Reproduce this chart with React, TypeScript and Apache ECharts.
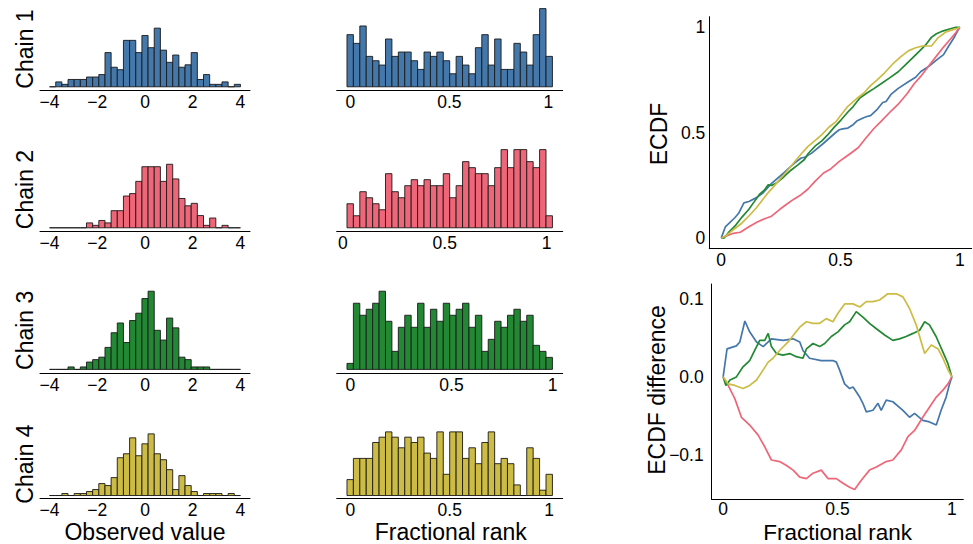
import React, { useEffect, useRef } from "react";
import * as echarts from "echarts";

// ---------- data ----------
const chainNames = ["Chain 1", "Chain 2", "Chain 3", "Chain 4"];
const chainColors = ["#4477AA", "#EE6677", "#228833", "#CCBB44"];

// observed-value histograms (31 shared bins over the range below)
const histRange = [-4, 4];
const histChain1 = [0, 2, 1, 3, 3, 3, 4, 4, 5, 14, 8, 7, 19, 19, 14, 21, 16, 24, 15, 10, 13, 8, 9, 14, 3, 5, 1, 1, 2, 0, 1];
const histChain2 = [0, 0, 0, 0, 0, 0, 2, 1, 3, 2, 7, 7, 13, 14, 19, 25, 25, 25, 19, 26, 20, 12, 9, 10, 5, 1, 4, 0, 1, 0, 0];
const histChain3 = [0, 0, 0, 1, 0, 1, 3, 4, 5, 9, 15, 19, 11, 20, 23, 29, 32, 16, 12, 21, 17, 5, 4, 1, 1, 1, 0, 0, 0, 0, 0];
const histChain4 = [0, 0, 1, 0, 1, 1, 2, 3, 6, 5, 9, 19, 21, 29, 20, 26, 31, 21, 18, 13, 3, 10, 5, 2, 0, 1, 1, 1, 0, 1, 0];

// fractional-rank histograms (32 bins each, bin range per chain)
const rankRangeChain1 = [-0.0165, 1.02];
const rankRangeChain2 = [0.0196, 1.029];
const rankRangeChain3 = [-0.0162, 0.999];
const rankRangeChain4 = [-0.0165, 1.0165];
const rankChain1 = [12, 10, 14, 7, 6, 5, 11, 7, 8, 8, 6, 4, 8, 7, 8, 6, 3, 7, 5, 3, 9, 12, 5, 11, 4, 4, 10, 8, 5, 12, 18, 7];
const rankChain2 = [4, 2, 6, 5, 4, 3, 9, 6, 5, 7, 8, 7, 8, 7, 7, 9, 5, 7, 11, 10, 9, 9, 7, 10, 13, 10, 13, 13, 11, 10, 13, 2];
const rankChain3 = [1, 11, 9, 10, 11, 13, 8, 3, 7, 9, 7, 11, 7, 10, 8, 11, 9, 10, 11, 7, 9, 3, 5, 8, 7, 9, 10, 8, 9, 4, 3, 2];
const rankChain4 = [3, 7, 7, 7, 10, 11, 12, 11, 9, 11, 10, 11, 8, 7, 12, 4, 12, 12, 7, 9, 6, 10, 12, 6, 7, 6, 2, 0, 9, 7, 1, 4];

// ECDF difference [fractional rank, ECDF - rank]
const ecdfDiffChain1 = [[0, 0], [0.017, 0.036], [0.058, 0.04], [0.073, 0.045], [0.095, 0.072], [0.116, 0.058], [0.146, 0.045], [0.175, 0.039], [0.211, 0.049], [0.262, 0.047], [0.306, 0.049], [0.335, 0.045], [0.349, 0.034], [0.378, 0.024], [0.429, 0.021], [0.48, 0.021], [0.495, 0.019], [0.509, 0.009], [0.531, -0.009], [0.553, -0.015], [0.568, -0.013], [0.597, -0.026], [0.611, -0.034], [0.626, -0.045], [0.655, -0.043], [0.677, -0.034], [0.691, -0.043], [0.713, -0.03], [0.742, -0.032], [0.786, -0.043], [0.815, -0.052], [0.837, -0.047], [0.873, -0.056], [0.902, -0.058], [0.932, -0.062], [0.953, -0.043], [0.975, -0.026], [0.99, -0.009], [1, 0]];
const ecdfDiffChain2 = [[0, 0], [0.022, -0.011], [0.051, -0.028], [0.08, -0.052], [0.116, -0.062], [0.153, -0.075], [0.182, -0.09], [0.211, -0.107], [0.247, -0.109], [0.277, -0.114], [0.306, -0.12], [0.335, -0.129], [0.364, -0.131], [0.393, -0.124], [0.429, -0.12], [0.459, -0.131], [0.495, -0.131], [0.524, -0.137], [0.553, -0.142], [0.575, -0.145], [0.604, -0.133], [0.64, -0.12], [0.67, -0.116], [0.713, -0.109], [0.742, -0.107], [0.779, -0.094], [0.808, -0.077], [0.837, -0.069], [0.873, -0.052], [0.902, -0.039], [0.932, -0.026], [0.961, -0.017], [0.983, -0.009], [1, 0]];
const ecdfDiffChain3 = [[0, 0], [0.012, -0.011], [0.03, -0.004], [0.058, 0], [0.087, 0.013], [0.116, 0.021], [0.138, 0.034], [0.16, 0.047], [0.182, 0.047], [0.197, 0.056], [0.211, 0.039], [0.233, 0.03], [0.262, 0.028], [0.291, 0.03], [0.32, 0.026], [0.349, 0.024], [0.364, 0.036], [0.393, 0.043], [0.422, 0.039], [0.444, 0.043], [0.473, 0.052], [0.502, 0.058], [0.531, 0.067], [0.553, 0.071], [0.582, 0.084], [0.611, 0.077], [0.64, 0.069], [0.67, 0.062], [0.706, 0.054], [0.742, 0.047], [0.771, 0.049], [0.8, 0.052], [0.83, 0.056], [0.859, 0.06], [0.881, 0.071], [0.902, 0.067], [0.931, 0.052], [0.961, 0.032], [0.983, 0.017], [1, 0]];
const ecdfDiffChain4 = [[0, 0], [0.022, -0.009], [0.051, -0.011], [0.087, -0.015], [0.116, -0.011], [0.146, -0.004], [0.175, 0.009], [0.197, 0.019], [0.218, 0.024], [0.247, 0.034], [0.284, 0.045], [0.313, 0.056], [0.335, 0.064], [0.364, 0.071], [0.393, 0.069], [0.422, 0.069], [0.451, 0.075], [0.48, 0.071], [0.502, 0.082], [0.531, 0.094], [0.568, 0.094], [0.597, 0.09], [0.626, 0.097], [0.655, 0.097], [0.684, 0.099], [0.72, 0.107], [0.757, 0.107], [0.786, 0.103], [0.815, 0.088], [0.844, 0.067], [0.881, 0.03], [0.91, 0.041], [0.94, 0.036], [0.961, 0.024], [0.983, 0.009], [1, 0]];

const observedTicks = [-4, -2, 0, 2, 4];
const rankTicks = [0, 0.5, 1];
const ecdfTicks = [0, 0.5, 1];
const diffTicks = [-0.1, 0, 0.1];

// ---------- layout ----------
const FONT = "'Liberation Sans', Arial, Helvetica, sans-serif";
const TICK_SIZE = 17.5;
const TITLE_SIZE = 23;
const rowTop = [4.7, 145.7, 287.3, 428.7];
const rowBottom = [90.7, 231.7, 373.3, 498.7];
const leftX = 40, leftW = 210;
const rankX = 336.7, rankW = 226;

const minus = (s: string) => s.replace("-", "\u2212");

function expand(lo: number, hi: number, f = 0.05) {
  const r = hi - lo;
  return [lo - r * f, hi + r * f];
}

function histSeries(counts: number[], range: number[], color: string, idx: number) {
  const n = counts.length;
  const w = (range[1] - range[0]) / n;
  const data = counts.map((c, k) => [range[0] + k * w, range[0] + (k + 1) * w, c]);
  return {
    type: "custom",
    xAxisIndex: idx,
    yAxisIndex: idx,
    silent: true,
    clip: false,
    data,
    encode: { x: [0, 1], y: 2 },
    renderItem: (params: any, api: any) => {
      const p0 = api.coord([api.value(0), api.value(2)]);
      const p1 = api.coord([api.value(1), 0]);
      return {
        type: "rect",
        shape: { x: p0[0], y: p0[1], width: p1[0] - p0[0], height: p1[1] - p0[1] },
        style: { fill: color, stroke: "#1a1a1a", lineWidth: 0.9 },
      };
    },
  };
}

function xAxisCfg(gridIndex: number, min: number, max: number, ticks: number[], fmt: (v: number) => string, margin = 3) {
  return {
    type: "value",
    gridIndex,
    min,
    max,
    axisLine: { show: true, onZero: false, lineStyle: { color: "#000", width: 1 } },
    axisTick: { show: false },
    splitLine: { show: false },
    axisLabel: {
      customValues: ticks,
      formatter: fmt,
      color: "#000",
      fontSize: TICK_SIZE,
      lineHeight: 17,
      fontFamily: FONT,
      margin,
      showMinLabel: true,
      showMaxLabel: true,
    },
  };
}

function buildOption() {
  const hists = [histChain1, histChain2, histChain3, histChain4];
  const ranks = [rankChain1, rankChain2, rankChain3, rankChain4];
  const rankRanges = [rankRangeChain1, rankRangeChain2, rankRangeChain3, rankRangeChain4];
  const diffs = [ecdfDiffChain1, ecdfDiffChain2, ecdfDiffChain3, ecdfDiffChain4];

  const grids: any[] = [];
  const xAxes: any[] = [];
  const yAxes: any[] = [];
  const series: any[] = [];

  const histMax = Math.max(...hists.flat());
  const histX = expand(histRange[0], histRange[1]);

  // left column
  for (let i = 0; i < 4; i++) {
    grids.push({ left: leftX, top: rowTop[i], width: leftW, height: rowBottom[i] - rowTop[i] });
    xAxes.push(xAxisCfg(i, histX[0], histX[1], observedTicks, (v: number) => minus(String(v))));
    const yr = expand(0, histMax);
    yAxes.push({ type: "value", gridIndex: i, min: yr[0], max: yr[1], show: false });
    series.push(histSeries(hists[i], histRange, chainColors[i], i));
  }
  // middle column
  for (let i = 0; i < 4; i++) {
    const gi = 4 + i;
    grids.push({ left: rankX, top: rowTop[i], width: rankW, height: rowBottom[i] - rowTop[i] });
    const xr = expand(rankRanges[i][0], rankRanges[i][1]);
    xAxes.push(xAxisCfg(gi, xr[0], xr[1], rankTicks, (v: number) => String(v)));
    const yr = expand(0, Math.max(...ranks[i]));
    yAxes.push({ type: "value", gridIndex: gi, min: yr[0], max: yr[1], show: false });
    series.push(histSeries(ranks[i], rankRanges[i], chainColors[i], gi));
  }

  const yAxisBase = (gi: number, min: number, max: number, ticks: number[], fmt: (v: number) => string, margin: number) => ({
    type: "value",
    gridIndex: gi,
    min,
    max,
    axisLine: { show: true, onZero: false, lineStyle: { color: "#000", width: 1 } },
    axisTick: { show: false },
    splitLine: { show: false },
    axisLabel: {
      customValues: ticks,
      formatter: fmt,
      color: "#000",
      fontSize: TICK_SIZE,
      fontFamily: FONT,
      margin,
    },
  });

  // ECDF
  grids.push({ left: 709.3, top: 16.7, width: 262.4, height: 232 });
  const ex = expand(0, 1);
  xAxes.push(xAxisCfg(8, ex[0], ex[1], ecdfTicks, (v: number) => String(v)));
  yAxes.push(yAxisBase(8, ex[0], ex[1], ecdfTicks, (v: number) => String(v), 4));
  // ECDF difference
  grids.push({ left: 711.7, top: 284, width: 251.6, height: 215.3 });
  xAxes.push(xAxisCfg(9, ex[0], ex[1], ecdfTicks, (v: number) => String(v), 1));
  const allD = diffs.flat().map((p) => p[1]);
  const dr = expand(Math.min(...allD), Math.max(...allD));
  yAxes.push(yAxisBase(9, dr[0], dr[1], diffTicks, (v: number) => minus(v.toFixed(1)), 8));

  for (let i = 0; i < 4; i++) {
    series.push({
      type: "line",
      xAxisIndex: 8,
      yAxisIndex: 8,
      silent: true,
      symbol: "none",
      data: diffs[i].map((p) => [p[0], p[0] + p[1]]),
      lineStyle: { color: chainColors[i], width: 1.7 },
    });
  }
  for (let i = 0; i < 4; i++) {
    series.push({
      type: "line",
      xAxisIndex: 9,
      yAxisIndex: 9,
      silent: true,
      symbol: "none",
      data: diffs[i],
      lineStyle: { color: chainColors[i], width: 1.7 },
    });
  }

  const txt = (text: string, x: number, y: number, rot = 0, size = TITLE_SIZE) => ({
    type: "text",
    x,
    y,
    rotation: rot,
    silent: true,
    style: {
      text,
      fill: "#000",
      font: `${size}px ${FONT}`,
      lineHeight: size - 1,
      align: "center",
      verticalAlign: "middle",
    },
  });

  const graphics: any[] = [];
  const labelY = [49, 189.5, 330.3, 464];
  for (let i = 0; i < 4; i++) graphics.push(txt(chainNames[i], 25, labelY[i], Math.PI / 2));
  graphics.push(txt("Observed value", 145, 531.5));
  graphics.push(txt("Fractional rank", 450.8, 531.5));
  graphics.push(txt("Fractional rank", 837.7, 532.5, 0, 22.5));
  graphics.push(txt("ECDF", 659, 134, Math.PI / 2));
  graphics.push(txt("ECDF difference", 657, 390, Math.PI / 2));

  return {
    animation: false,
    backgroundColor: "#fff",
    grid: grids,
    xAxis: xAxes,
    yAxis: yAxes,
    series,
    graphic: graphics,
  };
}

export default function App() {
  const ref = useRef<HTMLDivElement>(null);
  useEffect(() => {
    if (!ref.current) return;
    const chart = echarts.init(ref.current, undefined, { renderer: "svg" });
    chart.setOption(buildOption() as any);
    return () => chart.dispose();
  }, []);
  return (
    <div
      ref={ref}
      style={{ position: "fixed", left: 0, top: 0, width: 973, height: 544, background: "#fff" }}
    />
  );
}
